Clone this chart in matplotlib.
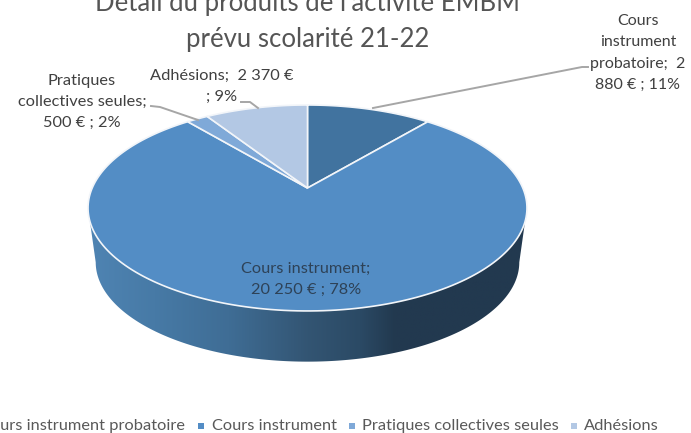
import numpy as np
import matplotlib
matplotlib.use("Agg")
import matplotlib.pyplot as plt
from matplotlib.colors import LinearSegmentedColormap
from matplotlib.patches import Polygon, Rectangle

categories = ["Cours instrument probatoire", "Cours instrument", "Pratiques collectives seules", "Adhésions"]
values = [2880, 20250, 500, 2370]
colors = ["#41739f", "#538dc5", "#7fa9d8", "#b3c8e4"]
title = "Détail du produits de l'activité EMBM\nprévu scolarité 21-22"

plt.rcParams['font.family'] = ['Lato', 'DejaVu Sans']

W, H = 691, 433
fig = plt.figure(figsize=(W / 100, H / 100), dpi=100)
ax = fig.add_axes([0, 0, 1, 1])
ax.set_xlim(0, W)
ax.set_ylim(H, 0)
ax.axis("off")

# perspective disc, apex is not at the centre of the ellipse
cx, cy = 307.5, 188.0
k, a, b = 0.194, 215.3, 99.1


def project(theta):
    # theta clockwise from the back of the pie
    u, v = np.sin(theta), -np.cos(theta)
    d = 1 - k * v
    return cx + a * u / d, cy + b * v / d


def lower(x, y):
    # same rim seen at the bottom of the wall
    return cx + 0.965 * (x - cx), cy + 55 + 0.965 * (y - cy)


# wall, front half of rim only
front = np.linspace(np.arccos(-k), 2 * np.pi - np.arccos(-k), 200)
tx, ty = project(front)
bx, by = lower(tx, ty)
wall = Polygon(np.r_[np.c_[tx, ty], np.c_[bx, by][::-1]], closed=True, fc="none", ec="none")
ax.add_patch(wall)
wall_cmap = LinearSegmentedColormap.from_list(
    "wall",
    [(0, "#4f84b3"), (0.15, "#477aa6"), (0.32, "#3f6d95"), (0.5, "#335573"), (0.62, "#2b4a65"), (0.7, "#22394f"), (1, "#22394f")],
)
grad = np.linspace(0, 1, 256).reshape(1, -1)
im = ax.imshow(grad, cmap=wall_cmap, extent=[88, 527, 365, 200], aspect="auto", zorder=1)
im.set_clip_path(wall)
ax.set_xlim(0, W)
ax.set_ylim(H, 0)

# top face
edges = np.r_[0, np.cumsum(values)] / sum(values) * 2 * np.pi
for i in range(len(values)):
    t = np.linspace(edges[i], edges[i + 1], 200)
    x, y = project(t)
    pts = np.r_[[[cx, cy]], np.c_[x, y]]
    ax.add_patch(Polygon(pts, closed=True, fc=colors[i], ec="#f2f5f9", lw=1.2, zorder=2))

label_color = "#404040"
ax.text(308, 22, title, ha="center", va="center", fontsize=18.5, color="#555555", linespacing=1.55)

# leader lines
ax.plot([373, 582, 588], [108, 67, 67], color="#a6a6a6", lw=1.4, zorder=3)
ax.plot([151, 160, 198], [106, 107, 120], color="#a6a6a6", lw=1.4, zorder=3)
ax.plot([241, 250, 258], [102, 102, 108], color="#a6a6a6", lw=1.4, zorder=3)

# data labels
ax.text(638, 53, "Cours\ninstrument\nprobatoire;  2\n880 € ; 11%", ha="center", va="center",
        fontsize=11.5, color=label_color, linespacing=1.65)
ax.text(82, 102, "Pratiques\ncollectives seules;\n500 € ; 2%", ha="center", va="center",
        fontsize=11.8, color=label_color, linespacing=1.65)
ax.text(222, 86, "Adhésions;  2 370 €\n; 9%", ha="center", va="center",
        fontsize=11.8, color=label_color, linespacing=1.65)
ax.text(306, 279, "Cours instrument;\n20 250 € ; 78%", ha="center", va="center",
        fontsize=11.8, color="#2e4257", linespacing=1.65, zorder=4)

# legend, first entry runs off the left edge
ax.text(185, 426, categories[0], ha="right", va="center", fontsize=11.8, color="#595959", clip_on=False)
for name, col, mx, tx0 in zip(categories[1:], colors[1:], [201, 352, 574], [212, 362, 584]):
    ax.add_patch(Rectangle((mx - 3, 423), 6, 6, fc=col, ec="none"))
    ax.text(tx0, 426, name, ha="left", va="center", fontsize=11.8, color="#595959")

fig.savefig("out.png", dpi=100)
